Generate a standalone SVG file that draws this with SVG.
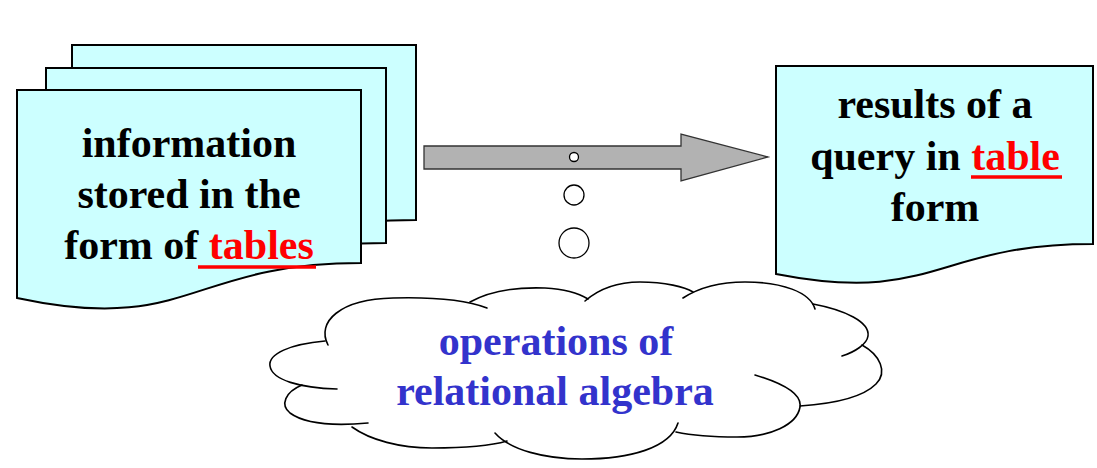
<svg xmlns="http://www.w3.org/2000/svg" width="1097" height="468" viewBox="0 0 1097 468">
  <style>
    .doc { fill: #CCFFFF; stroke: #000000; stroke-width: 2; stroke-linejoin: miter; }
    .t { font-family: "Liberation Serif", "Times New Roman", serif; font-weight: bold; font-size: 42px; text-anchor: middle; }
    .blk { fill: #000000; }
    .red { fill: #FF0000; }
    .blue { fill: #3333CC; }
    .ul { stroke: #FF0000; stroke-width: 3.5; }
    .cl { fill: none; stroke: #000000; stroke-width: 1.6; stroke-linecap: round; }
    .bub { fill: #FFFFFF; stroke: #000000; stroke-width: 1.3; }
  </style>
  <rect x="0" y="0" width="1097" height="468" fill="#FFFFFF"/>

  <g id="source-tables">
    <path class="doc" d="M72,45 H416 V220 C244,220 244,270 72,249 Z"/>
    <path class="doc" d="M46,68 H386 V243 C216,243 216,293 46,272 Z"/>
    <path class="doc" d="M17,90 H361 V263 C189,263 189,335 17,298 Z"/>
    <text class="t blk" x="189" y="157">information</text>
    <text class="t blk" x="189" y="208">stored in the</text>
    <text class="t blk" x="189" y="259">form of<tspan class="red"> tables</tspan></text>
    <line class="ul" x1="198" y1="267" x2="316" y2="267"/>
  </g>

  <g id="result-table">
    <path class="doc" d="M776,66 H1093 V244 C935,244 935,305 776,274 Z"/>
    <text class="t blk" x="935" y="118">results of a</text>
    <text class="t blk" x="935" y="170">query in <tspan class="red">table</tspan></text>
    <text class="t blk" x="935" y="221">form</text>
    <line class="ul" x1="971" y1="177" x2="1062" y2="177"/>
  </g>

  <g id="connectors">
    <path d="M424,146 H681 V134 L768,157 L681,181 V169 H424 Z" fill="#B2B2B2" stroke="#333333" stroke-width="1.3" stroke-linejoin="miter"/>
  </g>

  <g id="relational-algebra">
    <circle class="bub" cx="574" cy="157" r="4.5"/>
    <circle class="bub" cx="574" cy="195" r="10"/>
    <circle class="bub" cx="574" cy="243" r="15"/>
    <path class="cl" d="M328,345 C316,322 340,299 393,298 C430,297 466,300 487,308"/>
    <path class="cl" d="M470,302 C490,291 518,287 545,288 C565,289 580,294 588,299"/>
    <path class="cl" d="M585,301 C600,288 620,282 640,282 C665,282 685,287 693,292"/>
    <path class="cl" d="M683,298 C700,287 720,282 745,282 C782,282 810,292 815,309"/>
    <path class="cl" d="M813,304 C845,310 870,322 868,336 C867,344 855,352 842,356"/>
    <path class="cl" d="M862,345 C880,355 888,372 876,384 C862,398 830,404 800,406"/>
    <path class="cl" d="M755,375 C785,384 802,395 800,407 C797,425 770,437 737,437 C710,437 690,435 676,432"/>
    <path class="cl" d="M495,433 C510,450 545,459 582,459 C630,459 670,448 678,423"/>
    <path class="cl" d="M352,427 C370,440 400,448 432,448 C465,448 490,446 507,441"/>
    <path class="cl" d="M302,385 C285,392 280,405 290,413 C305,424 335,426 368,423"/>
    <path class="cl" d="M325,341 C290,344 268,354 270,366 C272,380 300,388 337,389"/>
    <text class="t blue" x="556" y="355">operations of</text>
    <text class="t blue" x="555" y="405">relational algebra</text>
  </g>
</svg>
